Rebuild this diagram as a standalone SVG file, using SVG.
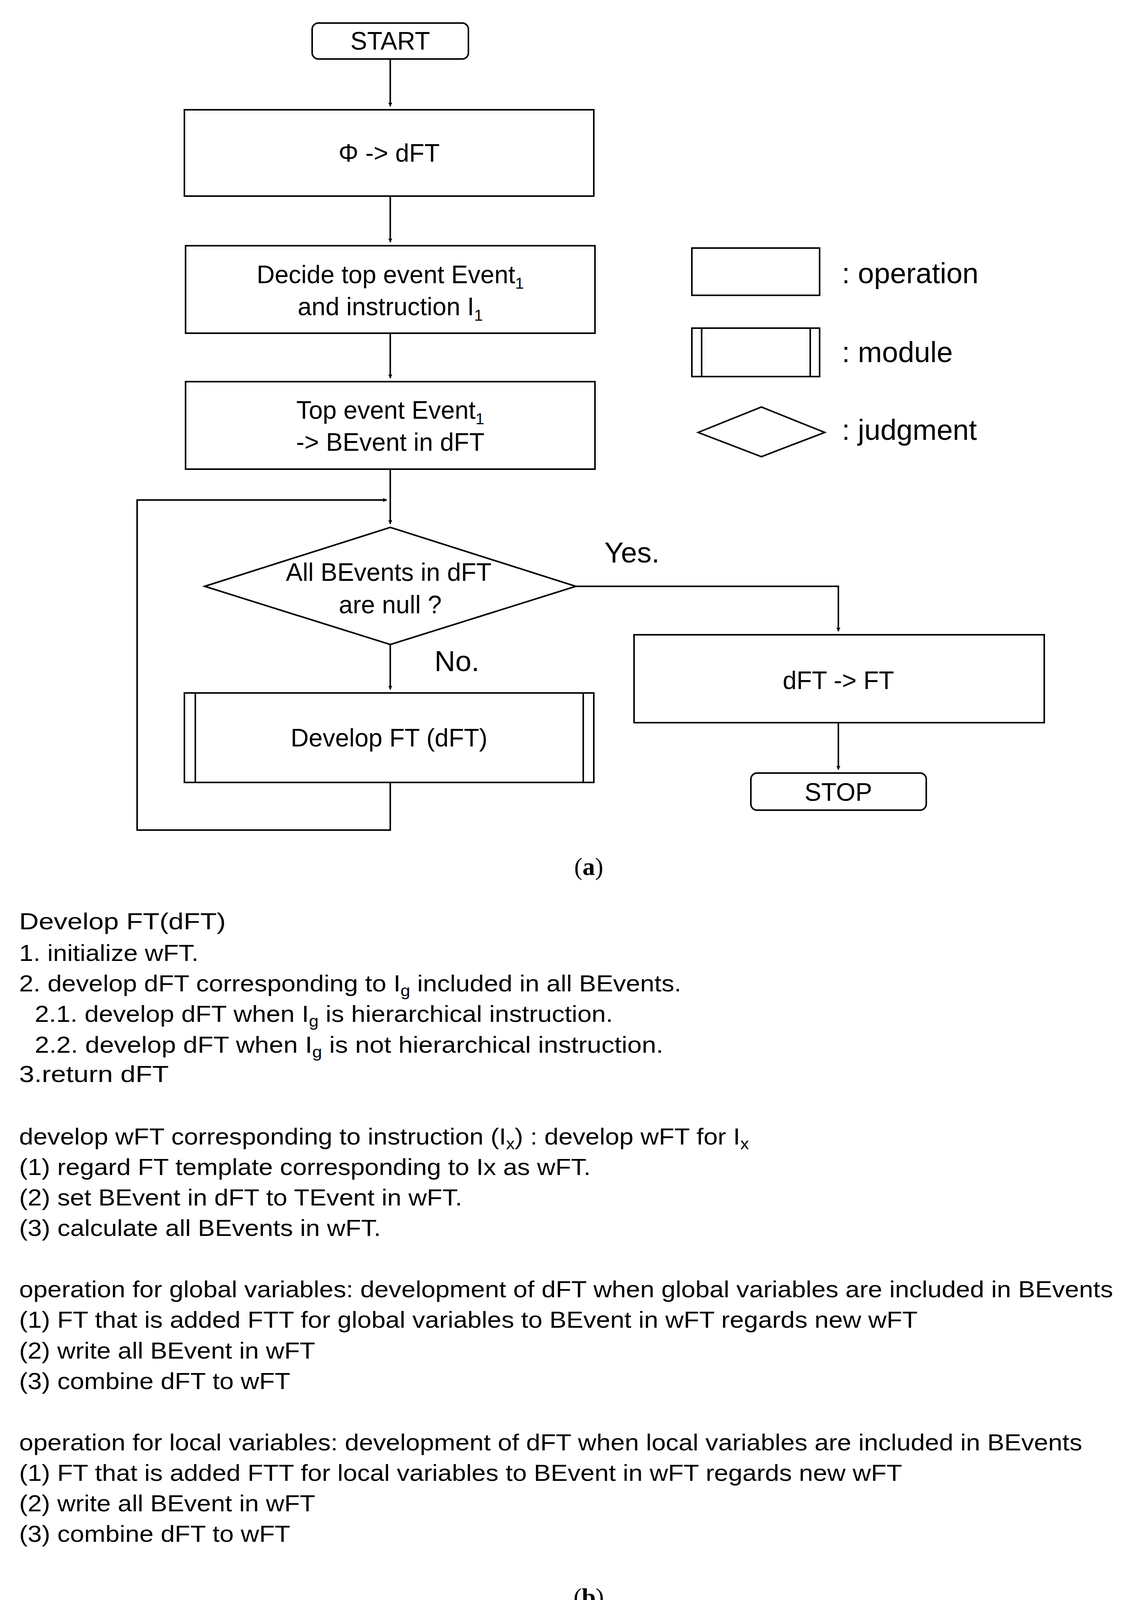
<svg xmlns="http://www.w3.org/2000/svg" width="2913" height="4257" viewBox="0 0 2913 4257">
<style>
.b{fill:#fff;stroke:#000;stroke-width:4}
.c{fill:none;stroke:#000;stroke-width:4}
text{font-family:"Liberation Sans",Arial,sans-serif;fill:#000}
.f{font-size:64px;text-anchor:middle}
.l{font-size:74px}
.t{font-size:59px}
.s{font-size:40px}
.cap{font-family:"Liberation Serif",serif;font-size:64px;text-anchor:middle}
</style>
<defs><marker id="a" markerWidth="10" markerHeight="10" refX="9" refY="5" orient="auto" markerUnits="userSpaceOnUse" viewBox="0 0 10 10"><path d="M0,0L10,5L0,10z" fill="#000"/></marker></defs>
<rect width="2913" height="4257" fill="#fff"/>
<g id="connectors">
<path class="c" d="M999 151V272" marker-end="url(#a)"/>
<path class="c" d="M999 502V620" marker-end="url(#a)"/>
<path class="c" d="M999 853V968" marker-end="url(#a)"/>
<path class="c" d="M999 1201V1341" marker-end="url(#a)"/>
<path class="c" d="M999 1650V1765" marker-end="url(#a)"/>
<path class="c" d="M999 2003V2125H351V1280H990" marker-end="url(#a)"/>
<path class="c" d="M1474 1501H2146V1616" marker-end="url(#a)"/>
<path class="c" d="M2146 1850V1970" marker-end="url(#a)"/>
<text class="l" x="1547" y="1440">Yes.</text>
<text class="l" x="1112" y="1718">No.</text>
</g>
<g id="start"><rect class="b" x="799" y="59" width="400" height="92" rx="16"/><text class="f" x="999" y="127">START</text></g>
<g id="phi"><rect class="b" x="472" y="281" width="1048" height="221"/><text class="f" x="996" y="414">Φ -&gt; dFT</text></g>
<g id="decide"><rect class="b" x="475" y="629" width="1048" height="224"/><text class="f" x="999" y="725">Decide top event Event<tspan class="s" dy="14">1</tspan></text><text class="f" x="999" y="807">and instruction I<tspan class="s" dy="14">1</tspan></text></g>
<g id="top"><rect class="b" x="475" y="977" width="1048" height="224"/><text class="f" x="999" y="1072">Top event Event<tspan class="s" dy="14">1</tspan></text><text class="f" x="999" y="1154">-&gt; BEvent in dFT</text></g>
<g id="judge"><path class="b" d="M524 1501L999 1350L1474 1501L999 1650z"/><text class="f" x="995" y="1487">All BEvents in dFT</text><text class="f" x="999" y="1570">are null ?</text></g>
<g id="develop"><rect class="b" x="472" y="1774" width="1048" height="229"/><path class="c" d="M500 1774V2003M1493 1774V2003"/><text class="f" x="996" y="1911">Develop FT (dFT)</text></g>
<g id="dft2ft"><rect class="b" x="1623" y="1625" width="1050" height="225"/><text class="f" x="2146" y="1764">dFT -&gt; FT</text></g>
<g id="stop"><rect class="b" x="1922" y="1979" width="449" height="95" rx="16"/><text class="f" x="2146" y="2050">STOP</text></g>
<g id="legend">
<rect class="b" x="1771" y="635" width="327" height="121"/><text class="l" x="2155" y="725">: operation</text>
<rect class="b" x="1771" y="840" width="327" height="124"/><path class="c" d="M1796 840V964M2074 840V964"/><text class="l" x="2155" y="927">: module</text>
<path class="b" d="M1787 1107L1949 1042L2111 1107L1949 1169z"/><text class="l" x="2155" y="1126">: judgment</text>
</g>
<text class="cap" x="1507" y="2240">(<tspan font-weight="bold">a</tspan>)</text>
<g id="text-b" class="t">
<text x="49" y="2379" textLength="529" lengthAdjust="spacingAndGlyphs">Develop  FT(dFT)</text>
<text x="49" y="2460" textLength="459" lengthAdjust="spacingAndGlyphs">1. initialize wFT.</text>
<text x="49" y="2538" textLength="1695" lengthAdjust="spacingAndGlyphs">2. develop dFT corresponding to I<tspan class="s" dy="12">g</tspan><tspan dy="-12"> included in all BEvents.</tspan></text>
<text x="89" y="2616" textLength="1480" lengthAdjust="spacingAndGlyphs">2.1. develop dFT when I<tspan class="s" dy="12">g</tspan><tspan dy="-12"> is hierarchical instruction.</tspan></text>
<text x="89" y="2695" textLength="1609" lengthAdjust="spacingAndGlyphs">2.2. develop dFT when I<tspan class="s" dy="12">g</tspan><tspan dy="-12"> is  not hierarchical instruction.</tspan></text>
<text x="49" y="2770" textLength="383" lengthAdjust="spacingAndGlyphs">3.return  dFT</text>
<text x="49" y="2930" textLength="1868" lengthAdjust="spacingAndGlyphs">develop wFT corresponding to instruction (I<tspan class="s" dy="12">x</tspan><tspan dy="-12">) : develop wFT for I</tspan><tspan class="s" dy="12">x</tspan></text>
<text x="49" y="3008" textLength="1463" lengthAdjust="spacingAndGlyphs">(1) regard FT template corresponding to Ix as wFT.</text>
<text x="49" y="3086" textLength="1134" lengthAdjust="spacingAndGlyphs">(2) set BEvent in dFT to TEvent in wFT.</text>
<text x="49" y="3164" textLength="926" lengthAdjust="spacingAndGlyphs">(3) calculate all BEvents in wFT.</text>
<text x="49" y="3321" textLength="2800" lengthAdjust="spacingAndGlyphs">operation for global variables: development of dFT when global variables are included in BEvents</text>
<text x="49" y="3399" textLength="2300" lengthAdjust="spacingAndGlyphs">(1) FT that is added FTT for global variables to BEvent in wFT regards new wFT</text>
<text x="49" y="3478" textLength="758" lengthAdjust="spacingAndGlyphs">(2) write all BEvent in wFT</text>
<text x="49" y="3556" textLength="694" lengthAdjust="spacingAndGlyphs">(3) combine dFT to wFT</text>
<text x="49" y="3713" textLength="2721" lengthAdjust="spacingAndGlyphs">operation for local variables: development of dFT when local variables are included in BEvents</text>
<text x="49" y="3791" textLength="2260" lengthAdjust="spacingAndGlyphs">(1) FT that is added FTT for local variables to BEvent in wFT regards new wFT</text>
<text x="49" y="3869" textLength="758" lengthAdjust="spacingAndGlyphs">(2) write all BEvent in wFT</text>
<text x="49" y="3947" textLength="694" lengthAdjust="spacingAndGlyphs">(3) combine dFT to wFT</text>
</g>
<text class="cap" x="1507" y="4110">(<tspan font-weight="bold">b</tspan>)</text>
</svg>
